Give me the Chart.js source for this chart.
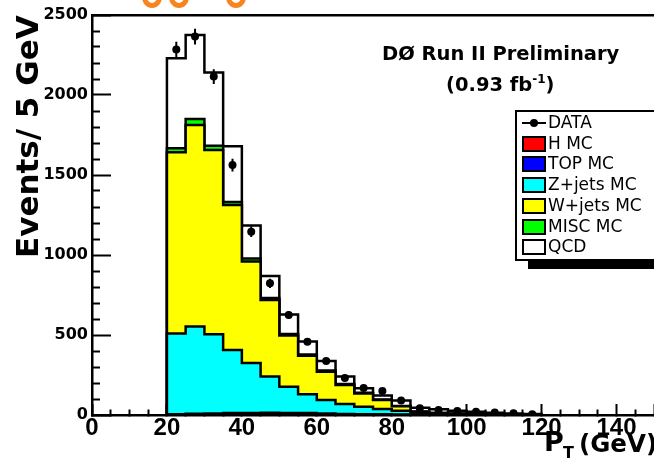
<!DOCTYPE html>
<html>
<head>
<meta charset="utf-8">
<script src="https://cdn.jsdelivr.net/npm/chart.js@4.4.1/dist/chart.umd.min.js"></script>
<style>
  html, body { margin: 0; padding: 0; overflow: hidden; background: #fff; width: 654px; height: 461px; }
  #wrap { position: relative; width: 654px; height: 461px; overflow: hidden; }
  #c { position: absolute; left: 0; top: 0; }
  .txt { position: absolute; font-family: "DejaVu Sans", sans-serif; font-weight: bold; color: #000; white-space: nowrap; }
  .txt sup { font-size: 12px; vertical-align: 8px; line-height: 0; }
  #ytitle { position: absolute; left: 0; top: 0; transform-origin: 0 0; transform: translate(9px, 258px) rotate(-90deg);
            font-family: "DejaVu Sans", sans-serif; font-weight: bold; font-size: 31px; white-space: nowrap; color: #000; }
  #legend { position: absolute; left: 515px; top: 110px; width: 160px; height: 151px; box-sizing: border-box;
            border: 2px solid #000; background: #fff; box-shadow: 13px 8px 0 #000; }
  .lrow { position: absolute; left: 0; height: 20px; width: 150px; }
  .sw { position: absolute; left: 5px; top: 2px; width: 24px; height: 16px; box-sizing: border-box; border: 2px solid #000; }
  .dline { position: absolute; left: 5px; top: 9px; width: 24px; height: 2px; background: #000; }
  .ddot { position: absolute; left: 13px; top: 6px; width: 8px; height: 8px; border-radius: 50%; background: #000; }
  .ltxt { position: absolute; left: 31px; top: -1px; font-family: "DejaVu Sans", sans-serif; font-size: 17px; color: #000; white-space: nowrap; }
  .arc { position: absolute; border: 5px solid #f7841f; border-radius: 50%; }
</style>
</head>
<body>
<div id="wrap">
  <canvas id="c" width="658" height="461"></canvas>
  <div class="arc" style="left:142px; top:-14px; width:10px; height:12px;"></div>
  <div class="arc" style="left:169px; top:-14px; width:10px; height:12px;"></div>
  <div class="arc" style="left:226px; top:-14px; width:10px; height:12px;"></div>
  <div id="ytitle">Events/ 5 GeV</div>
  <div class="txt" style="left:382px; top:42px; font-size:19.5px;">DØ Run II Preliminary</div>
  <div class="txt" style="left:446px; top:73px; font-size:19.5px;">(0.93 fb<sup>-1</sup>)</div>
  <div id="legend"></div>
  <div class="txt" style="left:544px; top:426px; font-size:27px;">P</div>
  <div class="txt" style="left:563px; top:443px; font-size:16px;">T</div>
  <div class="txt" style="left:579px; top:429px; font-size:24.5px;">(GeV)</div>
</div>
<script>
// Lower edges of the 5 GeV pT bins
const binWidth = 5;
const binLow = [20, 25, 30, 35, 40, 45, 50, 55, 60, 65, 70, 75, 80, 85, 90, 95, 100, 105, 110, 115];

// Expected events per bin for each simulated / estimated sample
const hMC    = [1, 1, 1, 1, 1, 1, 1, 1, 0, 0, 0, 0, 0, 0, 0, 0, 0, 0, 0, 0];
const topMC  = [4, 7, 9, 11, 12, 13, 12, 11, 9, 7, 5, 4, 3, 2, 1, 1, 1, 0, 0, 0];
const zJets  = [505, 545, 495, 394, 312, 226, 164, 117, 85, 62, 47, 34, 23, 10, 7, 4, 2, 2, 1, 0];
const wJets  = [1132, 1259, 1151, 906, 635, 479, 320, 241, 176, 118, 83, 56, 29, 9, 4, 3, 2, 1, 1, 1];
const miscMC = [25, 38, 27, 19, 18, 12, 10, 8, 8, 6, 4, 3, 2, 1, 1, 1, 1, 1, 0, 0];
const qcd    = [563, 525, 457, 349, 207, 138, 121, 82, 59, 47, 28, 25, 33, 24, 23, 17, 14, 10, 8, 6];

// Observed events and their statistical uncertainties
const dataCounts = [2285, 2365, 2115, 1562, 1146, 823, 625, 458, 337, 231, 169, 150, 90, 42, 32, 25, 20, 15, 11, 4];
const dataErrors = [48, 49, 46, 40, 34, 29, 25, 21, 18, 15, 13, 12, 9, 6, 6, 5, 4, 4, 3, 2];

// Axis ticks
const xMajorTicks = [0, 20, 40, 60, 80, 100, 120, 140];
const xMinorStep = 5;
const yMajorTicks = [0, 500, 1000, 1500, 2000, 2500];
const yMinorStep = 100;

// Stack, bottom to top
const samples = [
  { label: 'H MC',      values: hMC,    color: '#ff0000' },
  { label: 'TOP MC',    values: topMC,  color: '#0000ff' },
  { label: 'Z+jets MC', values: zJets,  color: '#00ffff' },
  { label: 'W+jets MC', values: wJets,  color: '#ffff00' },
  { label: 'MISC MC',   values: miscMC, color: '#00ff00' },
  { label: 'QCD',       values: qcd,    color: '#ffffff' }
];

// Running sums give the top edge of each layer
let running = binLow.map(() => 0);
const layerTops = samples.map(s => {
  running = running.map((v, i) => v + s.values[i]);
  return running;
});

// Step outline points: rise at the first edge, one point per bin, drop at the last edge
function stepPoints(tops) {
  const pts = [{ x: binLow[0], y: 0 }];
  binLow.forEach((x, i) => pts.push({ x: x, y: tops[i] }));
  pts.push({ x: binLow[binLow.length - 1] + binWidth, y: 0 });
  return pts;
}

const histDatasets = samples.map((s, k) => ({
  type: 'line',
  label: s.label,
  data: stepPoints(layerTops[k]),
  stepped: 'before',
  borderColor: '#000',
  borderWidth: 2.5,
  backgroundColor: s.color,
  fill: 'origin',
  pointRadius: 0,
  order: 10 + k
}));

const centers = binLow.map(x => x + binWidth / 2);

const errorBarPoints = [];
centers.forEach((x, i) => {
  errorBarPoints.push({ x: x, y: dataCounts[i] - dataErrors[i] });
  errorBarPoints.push({ x: x, y: dataCounts[i] + dataErrors[i] });
  errorBarPoints.push({ x: x, y: null });
});

const dataset = {
  type: 'line',
  label: 'DATA',
  data: centers.map((x, i) => ({ x: x, y: dataCounts[i] })),
  showLine: false,
  pointRadius: 4,
  pointBackgroundColor: '#000',
  pointBorderColor: '#000',
  pointBorderWidth: 0,
  order: 0
};
const errorSet = {
  type: 'line',
  label: 'DATA errors',
  data: errorBarPoints,
  borderColor: '#000',
  borderWidth: 2,
  pointRadius: 0,
  spanGaps: false,
  fill: false,
  order: 1
};

function stepTicks(min, max, step) {
  const t = [];
  for (let v = min; v <= max + 1e-9; v += step) t.push({ value: v });
  return t;
}

const FONT = 'DejaVu Sans';

new Chart(document.getElementById('c'), {
  type: 'line',
  data: { datasets: [dataset, errorSet].concat(histDatasets) },
  options: {
    responsive: false,
    animation: false,
    devicePixelRatio: 1,
    layout: { padding: 0 },
    plugins: { legend: { display: false }, tooltip: { enabled: false } },
    scales: {
      x: {
        type: 'linear',
        position: 'bottom',
        min: xMajorTicks[0],
        max: 150,
        offset: false,
        afterBuildTicks: s => { s.ticks = stepTicks(s.min, s.max, xMinorStep); },
        afterFit: s => { s.height = 46; s.paddingLeft = 0; s.paddingRight = 0; },
        grid: {
          drawOnChartArea: false,
          drawTicks: true,
          offset: false,
          tickLength: -11,
          tickWidth: 2,
          tickColor: '#000',
          tickBorderDash: ctx => (xMajorTicks.includes(ctx.tick.value) || ctx.tick.value === 150) ? [] : [7, 100]
        },
        border: { display: true, color: '#000', width: 2.5 },
        ticks: {
          autoSkip: false,
          maxRotation: 0,
          padding: 10,
          color: '#000',
          font: { family: 'Liberation Sans', weight: 'bold', size: 24 },
          callback: v => xMajorTicks.includes(v) ? String(v) : ''
        },
        title: { display: false }
      },
      xTop: {
        type: 'linear',
        position: 'top',
        min: 0,
        max: 150,
        afterFit: s => { s.height = 15; s.paddingLeft = 0; s.paddingRight = 0; },
        grid: { drawOnChartArea: false, drawTicks: false },
        border: { display: true, color: '#000', width: 2.5 },
        ticks: { display: false }
      },
      y: {
        type: 'linear',
        position: 'left',
        min: yMajorTicks[0],
        max: yMajorTicks[yMajorTicks.length - 1],
        afterBuildTicks: s => { s.ticks = stepTicks(s.min, s.max, yMinorStep); },
        afterFit: s => { s.width = 92; s.paddingTop = 0; s.paddingBottom = 0; },
        grid: {
          drawOnChartArea: false,
          drawTicks: true,
          tickLength: -19,
          tickWidth: 2,
          tickColor: '#000',
          tickBorderDash: ctx => yMajorTicks.includes(ctx.tick.value) ? [] : [0, 11, 9, 100]
        },
        border: { display: true, color: '#000', width: 2.5 },
        ticks: {
          autoSkip: false,
          padding: 23,
          color: '#000',
          font: { family: FONT, weight: 'bold', size: 16 },
          callback: v => yMajorTicks.includes(v) ? String(v) : ''
        },
        title: { display: false }
      }
    }
  }
});

// Legend box
const legendRows = [{ label: 'DATA', kind: 'data' }].concat(samples.map(s => ({ label: s.label, color: s.color })));
const legendEl = document.getElementById('legend');
legendRows.forEach((r, i) => {
  const row = document.createElement('div');
  row.className = 'lrow';
  row.style.top = (1 + i * 20.7) + 'px';
  if (r.kind === 'data') {
    row.innerHTML = '<div class="dline"></div><div class="ddot"></div>';
  } else {
    row.innerHTML = '<div class="sw" style="background:' + r.color + '"></div>';
  }
  const t = document.createElement('div');
  t.className = 'ltxt';
  t.textContent = r.label;
  row.appendChild(t);
  legendEl.appendChild(row);
});
</script>
</body>
</html>
